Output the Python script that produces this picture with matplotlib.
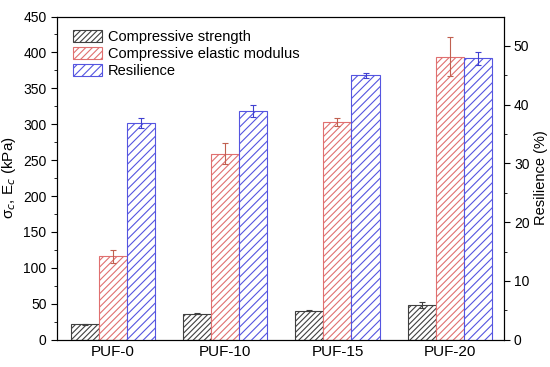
import matplotlib
matplotlib.use("Agg")
import matplotlib.pyplot as plt
import numpy as np

plt.rcParams['font.family'] = ['Liberation Sans', 'DejaVu Sans']
plt.rcParams['hatch.linewidth'] = 0.8

categories = ["PUF-0", "PUF-10", "PUF-15", "PUF-20"]
strength = [21.5, 36.2, 40.4, 48.3]
strength_err = [1.0, 1.0, 1.0, 4.0]
modulus = [116, 259, 303, 394]
modulus_err = [9, 15, 6, 27]
resilience = [36.9, 38.9, 45.0, 47.9]
resilience_err = [0.8, 1.0, 0.45, 1.1]

fig = plt.figure(figsize=(5.5, 3.67), dpi=100)
ax = fig.add_axes([57/550, 1-339.7/367, (503.5-57)/550, (339.7-16.5)/367])
ax2 = ax.twinx()

x = np.arange(1, len(categories) + 1)
w = 0.25

ax.bar(x - w, strength, w, facecolor='white', edgecolor='#404040', hatch='//////', linewidth=0.8,
       label='Compressive strength', zorder=2)
ax.errorbar(x - w, strength, yerr=strength_err, fmt='none', ecolor='#404040', elinewidth=0.8, capsize=2.5, capthick=0.8, zorder=3)
ax.bar(x, modulus, w, facecolor='white', edgecolor='#E07070', hatch='/////', linewidth=0.8,
       label='Compressive elastic modulus', zorder=2)
ax.errorbar(x, modulus, yerr=modulus_err, fmt='none', ecolor='#C06050', elinewidth=0.8, capsize=2.5, capthick=0.8, zorder=3)
ax2.bar(x + w, resilience, w, facecolor='white', edgecolor='#5555E0', hatch='////', linewidth=0.8,
        label='Resilience', zorder=2)
ax2.errorbar(x + w, resilience, yerr=resilience_err, fmt='none', ecolor='#4040D0', elinewidth=0.8, capsize=2.5, capthick=0.8, zorder=3)

ax.set_xlim(0.5, 4.48)
ax.set_ylim(0, 450)
ax2.set_ylim(0, 55)
ax.set_xticks(x)
ax.set_xticklabels(categories, fontsize=11)
ax.tick_params(axis='x', length=0, pad=4)
ax.set_yticks(np.arange(0, 451, 50))
ax.set_yticks(np.arange(25, 450, 50), minor=True)
ax.tick_params(axis='y', which='major', length=4, labelsize=10)
ax.tick_params(axis='y', which='minor', length=2.5)
ax2.set_yticks(np.arange(0, 51, 10))
ax2.set_yticks(np.arange(5, 55, 10), minor=True)
ax2.tick_params(axis='y', which='major', length=4, labelsize=10)
ax2.tick_params(axis='y', which='minor', length=2.5)

ax.set_ylabel(r'σ$_c$, E$_c$ (kPa)', fontsize=11, labelpad=4)
ax2.set_ylabel('Resilience (%)', fontsize=10.5, labelpad=3)

h1, l1 = ax.get_legend_handles_labels()
h2, l2 = ax2.get_legend_handles_labels()
ax.legend(h1 + h2, l1 + l2, loc='upper left', frameon=False, fontsize=10.5,
          bbox_to_anchor=(0.01, 0.995), handlelength=2.0, handleheight=0.9,
          handletextpad=0.4, labelspacing=0.2, borderaxespad=0.4)

fig.savefig('out.png', dpi=100)
